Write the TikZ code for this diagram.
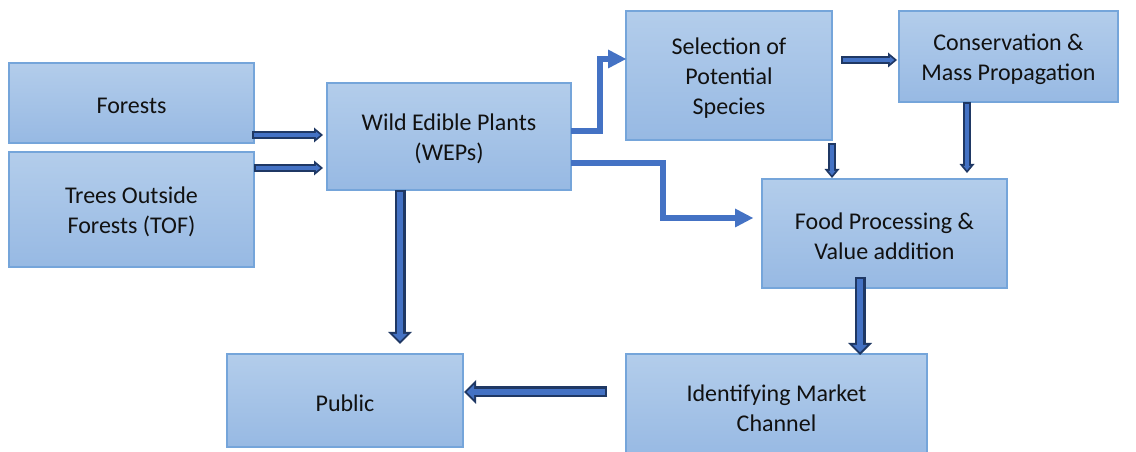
\documentclass[tikz,border=0pt]{standalone}
\usepackage{fontspec}
\setmainfont{Carlito}
\usetikzlibrary{arrows.meta}
\definecolor{boxtop}{HTML}{B3CDEB}
\definecolor{boxbot}{HTML}{97B9E3}
\definecolor{boxline}{HTML}{75A5DA}
\definecolor{navy}{HTML}{1F3864}
\definecolor{arrblue}{HTML}{4472C4}
\definecolor{txt}{HTML}{111111}
\begin{document}
\begin{tikzpicture}[x=1pt,y=1pt,
  box/.style={draw=boxline, line width=1.3pt, top color=boxtop, bottom color=boxbot,
    anchor=north west, inner sep=0pt, outer sep=0pt},
  lbl/.style={inner sep=0pt, align=center, font=\fontsize{24}{30}\selectfont, text=txt},
  blkbig/.style={line width=6pt, draw=arrblue,
    -{Triangle[length=7.2pt,width=14.3pt,line width=0pt]},
    shorten <=2.5pt, shorten >=2.83pt,
    preaction={draw=navy, line width=11pt,
      -{Triangle[length=12pt,width=24pt,line width=0pt]},
      shorten <=0pt, shorten >=0pt}},
  blksmall/.style={line width=4pt, draw=arrblue,
    -{Triangle[length=4.4pt,width=7.3pt,line width=0pt]},
    shorten <=1.8pt, shorten >=2.8pt,
    preaction={draw=navy, line width=8pt,
      -{Triangle[length=9pt,width=15pt,line width=0pt]},
      shorten <=0pt, shorten >=0pt}},
  elbow/.style={draw=arrblue, line width=6.5pt, line join=miter,
    -{Triangle[length=18pt,width=19pt,line width=0pt]}}
]
\clip (0,0) rectangle (1136,452);
\fill[white] (0,0) rectangle (1136,452);

% boxes
\node[box, minimum width=245pt, minimum height=80pt]  (forests) at (9,389)   {};
\node[box, minimum width=245pt, minimum height=115pt] (tof)     at (9,300)   {};
\node[box, minimum width=244pt, minimum height=107pt] (weps)    at (327,369) {};
\node[box, minimum width=206pt, minimum height=129pt] (sel)     at (626,441) {};
\node[box, minimum width=219pt, minimum height=91pt]  (cons)    at (899,441) {};
\node[box, minimum width=245pt, minimum height=109pt] (food)    at (762,273) {};
\node[box, minimum width=301pt, minimum height=104pt] (market)  at (626,98)  {};
\node[box, minimum width=236pt, minimum height=93pt]  (public)  at (227,98)  {};

% texts
\node[lbl] (forests-t) at ([yshift=-2.5pt]forests.center) {Forests};
\node[lbl] (tof-t)     at ([yshift=-2.5pt]tof.center)     {Trees Outside\\Forests (TOF)};
\node[lbl] (weps-t)    at ([yshift=-2.5pt]weps.center)    {Wild Edible Plants\\(WEPs)};
\node[lbl] (sel-t)     at ([yshift=-3pt]sel.center)       {Selection of\\Potential\\Species};
\node[lbl] (cons-t)    at ([yshift=-3pt]cons.center)      {Conservation \&\\Mass Propagation};
\node[lbl] (food-t)    at ([yshift=-2.5pt]food.center)    {Food Processing \&\\Value addition};
\node[lbl] (market-t)  at ([yshift=-2.5pt]market.center)  {Identifying Market\\Channel};
\node[lbl] (public-t)  at ([yshift=-2.5pt]public.center)  {Public};

% block arrows
\coordinate (f1) at ([shift={(-2,8)}]forests.south east);
\draw[blksmall] (f1) -- ([xshift=-4pt]weps.west |- f1);
\coordinate (t1) at ([shift={(0,-16)}]tof.north east);
\draw[blksmall] (t1) -- ([xshift=-4pt]weps.west |- t1);
\coordinate (w1) at ([xshift=-49pt]weps.south);
\draw[blkbig] (w1) -- ([yshift=10pt]w1 |- public.north);
\coordinate (m1) at ([shift={(-19,14)}]market.west);
\draw[blkbig] (m1) -- ([xshift=1pt]public.east |- m1);
\coordinate (s1) at ([shift={(9,15.5)}]sel.east);
\draw[blksmall] (s1) -- ([xshift=-2pt]cons.west |- s1);
\coordinate (s2) at ([yshift=-3pt]sel.south east);
\draw[blksmall] (s2) -- ([yshift=1pt]s2 |- food.north);
\coordinate (c1) at ([xshift=-41.5pt]cons.south);
\draw[blksmall] (c1) -- ([yshift=6pt]c1 |- food.north);
\coordinate (p1) at ([shift={(-24.5,11)}]food.south);
\draw[blkbig] (p1) -- ([yshift=-1pt]p1 |- market.north);

% elbow arrows
\coordinate (e1s) at ([yshift=5.5pt]weps.east);
\coordinate (e1t) at ([yshift=16.5pt]sel.west);
\draw[elbow] (e1s) -- ++(29,0) |- (e1t);
\coordinate (e2s) at ([yshift=-26.5pt]weps.east);
\coordinate (e2t) at ([shift={(-9,15.5)}]food.west);
\draw[elbow] (e2s) -- ++(92,0) |- (e2t);
\end{tikzpicture}
\end{document}
